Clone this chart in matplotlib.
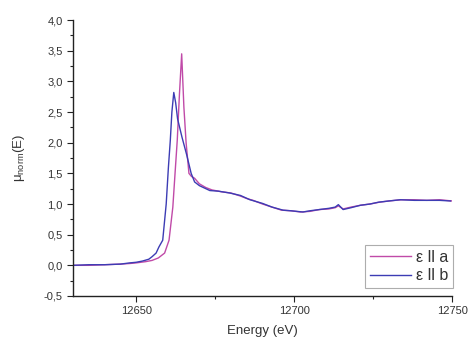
import matplotlib
matplotlib.use("Agg")
import matplotlib.pyplot as plt
from matplotlib.ticker import MultipleLocator, FuncFormatter

# Normalised absorption, polarisation parallel to a
energy_a = [12630, 12635, 12640, 12645, 12648, 12650, 12653, 12655, 12657, 12659,
            12660.4, 12661.6, 12662.3, 12663, 12663.7, 12664.4, 12665.1, 12665.8,
            12666.7, 12667.5, 12668.5, 12670, 12672, 12674, 12677, 12680, 12683,
            12685, 12687, 12690, 12693, 12696, 12699, 12702, 12705, 12708, 12711,
            12713, 12714, 12715.5, 12718, 12721, 12724, 12727, 12730, 12734, 12738,
            12742, 12746, 12750]
mu_a = [0.00, 0.00, 0.01, 0.02, 0.03, 0.04, 0.06, 0.08, 0.12, 0.20,
        0.41, 0.95, 1.50, 2.04, 2.80, 3.45, 2.58, 2.00,
        1.50, 1.45, 1.42, 1.33, 1.27, 1.23, 1.20, 1.18, 1.13,
        1.09, 1.06, 1.00, 0.95, 0.90, 0.89, 0.87, 0.88, 0.91, 0.92,
        0.94, 0.97, 0.92, 0.95, 0.98, 1.00, 1.03, 1.05, 1.07, 1.07,
        1.06, 1.07, 1.05]

# Normalised absorption, polarisation parallel to b
energy_b = [12630, 12635, 12640, 12645, 12648, 12650, 12652, 12654, 12655, 12656.3,
            12657.2, 12658.4, 12659.5, 12660.2, 12660.8, 12661.3, 12661.9, 12662.5,
            12663.1, 12664.5, 12666, 12667.4, 12668.5, 12670, 12673.3, 12676,
            12679.6, 12683, 12686, 12690, 12693, 12696.5, 12699, 12702.8, 12705,
            12708, 12711, 12713, 12714, 12715.5, 12718, 12721, 12724, 12726.7,
            12730, 12733.6, 12738, 12742, 12746, 12749.5]
mu_b = [0.00, 0.01, 0.01, 0.02, 0.04, 0.05, 0.07, 0.10, 0.14, 0.20,
        0.30, 0.41, 1.00, 1.60, 2.04, 2.50, 2.82, 2.65,
        2.39, 2.09, 1.80, 1.50, 1.36, 1.30, 1.22, 1.21,
        1.18, 1.14, 1.07, 1.01, 0.95, 0.90, 0.89, 0.87, 0.89,
        0.91, 0.93, 0.95, 0.99, 0.91, 0.94, 0.98, 1.00, 1.03,
        1.05, 1.07, 1.06, 1.06, 1.06, 1.05]

label_a = "\u03b5 ll a"
label_b = "\u03b5 ll b"
color_a = "#c04aa8"
color_b = "#3c3cb4"

plt.rcParams["font.family"] = ["Liberation Sans", "DejaVu Sans"]
text_color = "#333333"

fig = plt.figure(figsize=(4.68, 3.41), dpi=100)
ax = fig.add_axes([0.156, 0.132, 0.810, 0.809])

ax.plot(energy_a, mu_a, color=color_a, lw=1.0, label=label_a)
ax.plot(energy_b, mu_b, color=color_b, lw=1.0, label=label_b)

ax.set_xlim(12630, 12750)
ax.set_ylim(-0.5, 4.0)

for side in ("top", "right"):
    ax.spines[side].set_visible(False)
for side in ("left", "bottom"):
    ax.spines[side].set_linewidth(1.0)
    ax.spines[side].set_color("#222222")

ax.xaxis.set_major_locator(MultipleLocator(50))
ax.xaxis.set_minor_locator(MultipleLocator(25))
ax.yaxis.set_major_locator(MultipleLocator(0.5))
ax.yaxis.set_minor_locator(MultipleLocator(0.25))
ax.yaxis.set_major_formatter(FuncFormatter(lambda v, p: f"{v:.1f}".replace(".", ",")))

ax.tick_params(which="major", direction="out", length=4, width=0.8,
               labelsize=8, labelcolor=text_color, color="#222222")
ax.tick_params(which="minor", direction="out", length=2.5, width=0.8, color="#222222")

ax.set_xlabel("Energy (eV)", fontsize=9.5, color=text_color, labelpad=6)
ax.set_ylabel(r"$\mathregular{\mu_{norm}}$(E)", fontsize=9.5, color=text_color, labelpad=12)

leg = ax.legend(loc="lower right", bbox_to_anchor=(1.003, 0.029), fontsize=11.5,
                frameon=True, fancybox=False, handlelength=2.6, handletextpad=0.3,
                borderpad=0.3, labelspacing=0.2, borderaxespad=0.0)
leg.get_frame().set_edgecolor("#999999")
leg.get_frame().set_linewidth(0.8)
for t in leg.get_texts():
    t.set_color(text_color)

fig.savefig("out.png", dpi=100)
